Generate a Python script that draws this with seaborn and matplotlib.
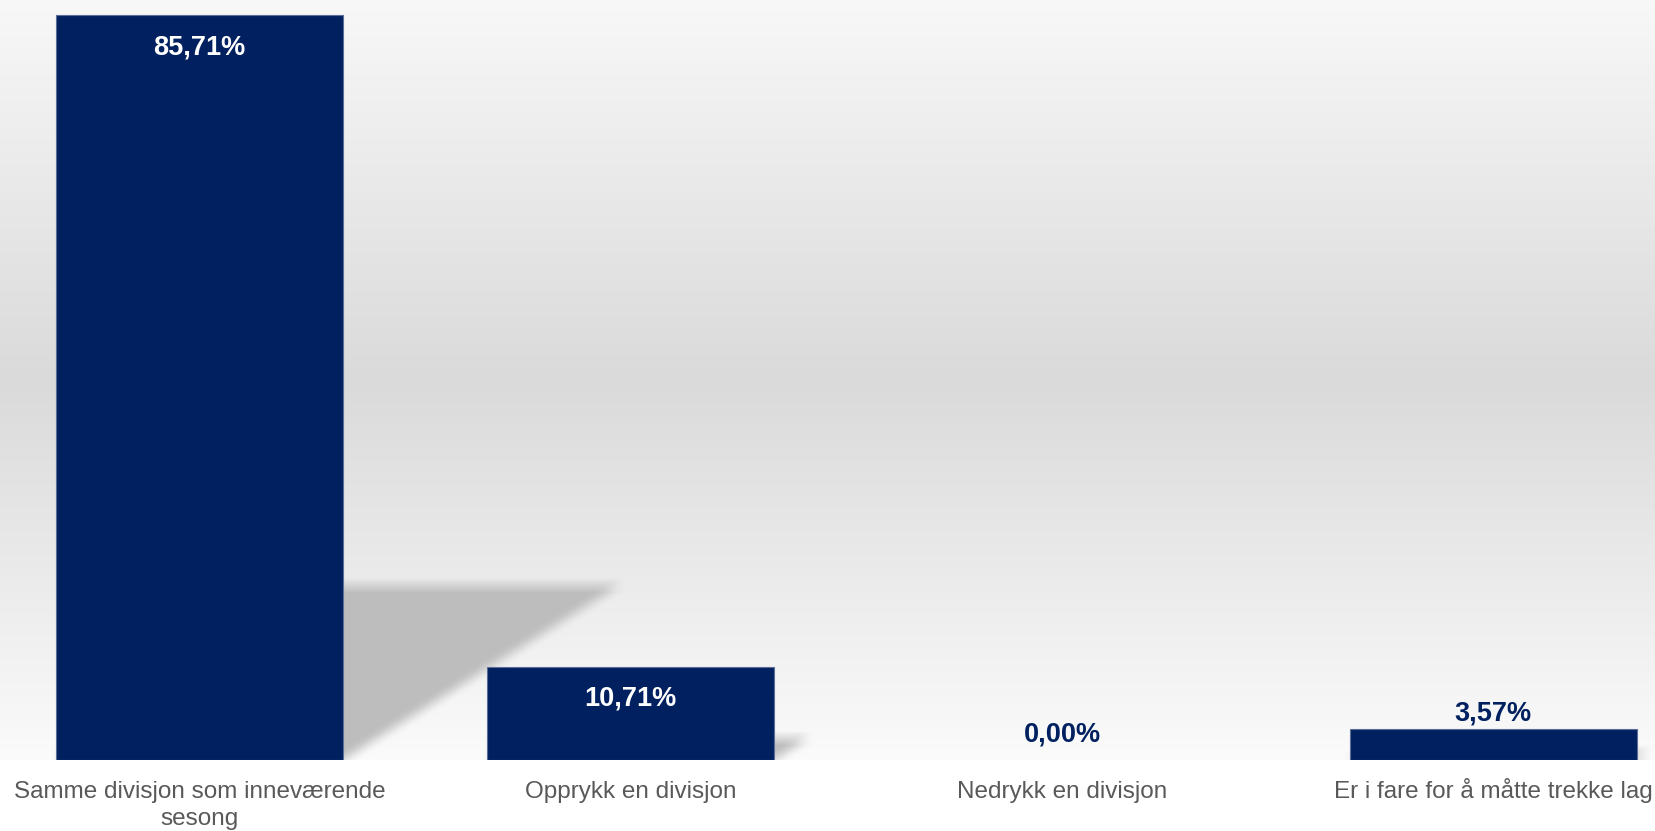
import numpy as np
import pandas as pd
import seaborn as sns
import matplotlib.pyplot as plt

categories = ["Samme divisjon som inneværende\nsesong", "Opprykk en divisjon",
              "Nedrykk en divisjon", "Er i fare for å måtte trekke lag"]
values = [85.71, 10.71, 0.00, 3.57]
labels = ["85,71%", "10,71%", "0,00%", "3,57%"]

bar_color = "#00205f"
W, H, DPI = 16.56, 8.31, 100

sns.set_theme(style="white")
plt.rcParams['font.family'] = ['Liberation Sans', 'DejaVu Sans']

fig = plt.figure(figsize=(W, H), dpi=DPI, facecolor="white")
ax = fig.add_axes([0, 71 / 831, 1, 760 / 831])

xlim = (-0.4626, 3.377)
ylim = (0, 87.44)
bar_w = 0.666

# background gradient + soft floor shadows, rendered as one image
nx, ny = 1656, 760
xs = np.linspace(xlim[0], xlim[1], nx)
ys = np.linspace(ylim[1], ylim[0], ny)
X, Y = np.meshgrid(xs, ys)
frac = np.linspace(0, 1, ny)
grey = np.interp(frac, [0, 0.5, 0.97, 1.0], [0.972, 0.855, 0.975, 0.985])
bg = np.repeat(grey[:, None], nx, axis=1)

mask = np.zeros_like(X)
for i, v in enumerate(values):
    if v <= 0:
        continue
    left, right = i - bar_w / 2, i + bar_w / 2
    sh = 0.235 * v
    dx = 0.0075 * v
    t = np.clip(Y / sh, 0, None)
    inside = (Y >= 0) & (Y <= sh) & (X >= left + dx * t) & (X <= right + dx * t)
    mask[inside] = 1.0

k = np.ones(15) / 15
mask = np.apply_along_axis(lambda r: np.convolve(r, k, mode="same"), 1, mask)
mask = np.apply_along_axis(lambda c: np.convolve(c, k, mode="same"), 0, mask)
shadow = 0.745
img = bg * (1 - mask) + shadow * mask
ax.imshow(np.dstack([img, img, img]), extent=(xlim[0], xlim[1], ylim[0], ylim[1]),
          aspect="auto", zorder=0, interpolation="bilinear")

df = pd.DataFrame({"cat": categories, "val": values})
sns.barplot(data=df, x="cat", y="val", color=bar_color, saturation=1, width=bar_w,
            edgecolor="#5a6e98", linewidth=0.8, ax=ax, zorder=3)
for p in ax.patches:
    if p.get_height() == 0:
        p.set_linewidth(0)

for i, (v, lab) in enumerate(zip(values, labels)):
    if v > 5:
        ax.annotate(lab, (i, v), xytext=(0, -32), textcoords="offset pixels",
                    ha="center", va="center", color="white", fontsize=19.5,
                    fontweight="bold", zorder=5)
    else:
        off = 26 if v == 0 else 15
        ax.annotate(lab, (i, v), xytext=(0, off), textcoords="offset pixels",
                    ha="center", va="center", color=bar_color, fontsize=19.5,
                    fontweight="bold", zorder=5)

# category labels, one line at a time so every first line sits on the same baseline
for i, cat in enumerate(categories):
    for j, line in enumerate(cat.split("\n")):
        ax.annotate(line, xy=(i, 0), xycoords=("data", "axes fraction"),
                    xytext=(0, -38 - 27 * j), textcoords="offset pixels",
                    ha="center", va="baseline", fontsize=17.5, color="#595959",
                    annotation_clip=False)

ax.set_xlim(*xlim)
ax.set_ylim(*ylim)
ax.set_xlabel("")
ax.set_ylabel("")
ax.set_yticks([])
ax.set_xticks([])
for s in ax.spines.values():
    s.set_visible(False)

fig.savefig("out.png", dpi=DPI, facecolor="white")
